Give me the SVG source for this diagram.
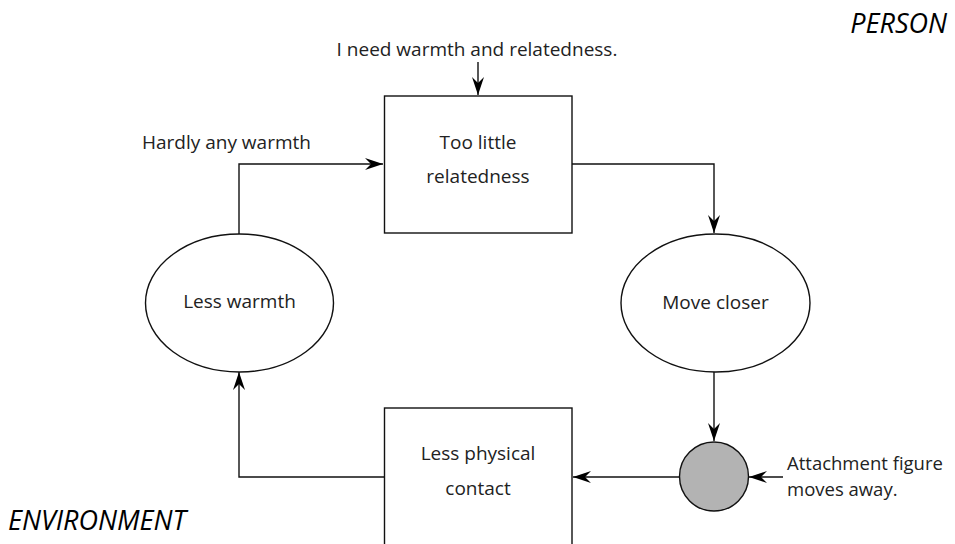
<svg xmlns="http://www.w3.org/2000/svg" width="955" height="544" viewBox="0 0 955 544">
  <style>
    .lbl { font-family: "Open Sans", "Noto Sans", "DejaVu Sans", sans-serif; font-size: 19px; fill: #222; }
    .mid { text-anchor: middle; }
    .side { font-size: 18.5px; }
    .zone { font-family: "Open Sans", "Noto Sans", "DejaVu Sans", sans-serif; font-size: 27px; font-style: italic; fill: #000; }
    .shape { fill: #fff; stroke: #111; stroke-width: 1.4; }
    .edge { fill: none; stroke: #111; stroke-width: 1.4; marker-end: url(#head); }
  </style>
  <defs>
    <marker id="head" markerUnits="userSpaceOnUse" markerWidth="20" markerHeight="14" viewBox="-18 -7 20 14" refX="0" refY="0" orient="auto">
      <path d="M0,0 L-18,-6 L-12,0 L-18,6 Z" fill="#000"/>
    </marker>
  </defs>

  <rect width="955" height="544" fill="#fff"/>

  <!-- zone captions -->
  <text class="zone" x="947" y="33" text-anchor="end">PERSON</text>
  <text class="zone" x="8" y="530">ENVIRONMENT</text>

  <!-- connectors -->
  <g id="connectors">
    <line class="edge" x1="478" y1="62" x2="478" y2="95"/>
    <polyline class="edge" points="572,164 714,164 714,233"/>
    <line class="edge" x1="714" y1="372" x2="714" y2="441"/>
    <line class="edge" x1="783" y1="477" x2="749" y2="477"/>
    <line class="edge" x1="680" y1="477" x2="573" y2="477"/>
    <polyline class="edge" points="384,477 239,477 239,372"/>
    <polyline class="edge" points="239,234 239,164 383,164"/>
  </g>

  <!-- free labels -->
  <text class="lbl mid" x="477" y="56">I need warmth and relatedness.</text>
  <text class="lbl" x="142" y="149">Hardly any warmth</text>
  <text class="lbl side" x="787" y="470">Attachment figure</text>
  <text class="lbl side" x="787" y="496">moves away.</text>

  <g id="too-little-relatedness">
    <rect class="shape" x="384.5" y="96" width="187.5" height="137"/>
    <text class="lbl mid" x="478" y="149">Too little</text>
    <text class="lbl mid" x="478" y="183">relatedness</text>
  </g>

  <g id="move-closer">
    <ellipse class="shape" cx="715.5" cy="303" rx="94.5" ry="69"/>
    <text class="lbl mid" x="715.5" y="309">Move closer</text>
  </g>

  <g id="attachment-figure">
    <circle cx="714" cy="476.5" r="34.5" fill="#b3b3b3" stroke="#111" stroke-width="1.4"/>
  </g>

  <g id="less-physical-contact">
    <rect class="shape" x="384.5" y="408" width="187.5" height="150"/>
    <text class="lbl mid" x="478" y="460">Less physical</text>
    <text class="lbl mid" x="478" y="495">contact</text>
  </g>

  <g id="less-warmth">
    <ellipse class="shape" cx="239.5" cy="303" rx="94" ry="69"/>
    <text class="lbl mid" x="239.5" y="308">Less warmth</text>
  </g>
</svg>
